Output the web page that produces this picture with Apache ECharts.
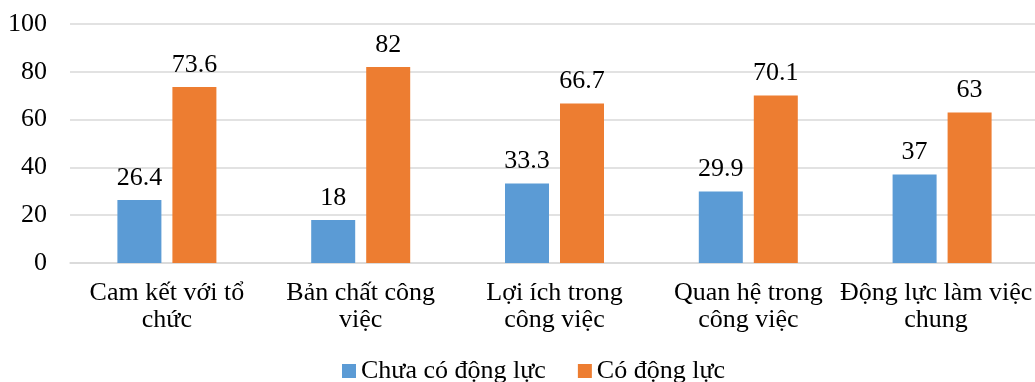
<!DOCTYPE html>
<html>
<head>
<meta charset="utf-8">
<script src="https://cdn.jsdelivr.net/npm/echarts@6/dist/echarts.min.js"></script>
<style>
html,body{margin:0;padding:0;background:#fff;}
#chart{width:1035px;height:382px;}
</style>
</head>
<body>
<div id="chart"></div>
<script>
const categories = ["Cam kết với tổ\nchức", "Bản chất công\nviệc", "Lợi ích trong\ncông việc", "Quan hệ trong\ncông việc", "Động lực làm việc\nchung"];
const seriesNames = ["Chưa có động lực", "Có động lực"];
const chuaCo = [26.4, 18, 33.3, 29.9, 37];
const coDongLuc = [73.6, 82, 66.7, 70.1, 63];
const yTicks = { min: 0, max: 100, interval: 20 };

const FONT = '"Liberation Serif", "Times New Roman", serif';
const chart = echarts.init(document.getElementById('chart'));
const labelCfg = {
  show: true, position: 'top', distance: 9,
  fontFamily: FONT, fontSize: 26, color: '#000'
};
// last category label nudged left so it stays inside the canvas
const catData = categories.map((c, i) =>
  i === categories.length - 1 ? { value: c, textStyle: { padding: [0, 12, 0, 0] } } : c);
chart.setOption({
  animation: false,
  textStyle: { fontFamily: FONT },
  grid: { left: 70, width: 969, top: 24, height: 239, containLabel: false, outerBoundsMode: 'none' },
  legend: {
    left: 342, top: 358, padding: 0,
    itemWidth: 14, itemHeight: 14, itemGap: 32,
    icon: 'rect',
    textStyle: { fontFamily: FONT, fontSize: 26, color: '#000' },
    data: seriesNames
  },
  xAxis: {
    type: 'category',
    data: catData,
    axisLine: { lineStyle: { color: '#d9d9d9', width: 1.5 } },
    axisTick: { show: false },
    axisLabel: { interval: 0, fontFamily: FONT, fontSize: 26, color: '#000', lineHeight: 27, margin: 17 }
  },
  yAxis: {
    type: 'value',
    min: yTicks.min, max: yTicks.max, interval: yTicks.interval,
    axisLine: { show: false },
    axisTick: { show: false },
    splitLine: { lineStyle: { color: '#d9d9d9', width: 1.5 } },
    axisLabel: { fontFamily: FONT, fontSize: 26, color: '#000', margin: 23 }
  },
  series: [
    { name: seriesNames[0], type: 'bar', data: chuaCo, barWidth: 44, barGap: '25%',
      itemStyle: { color: '#5B9BD5' }, label: labelCfg },
    { name: seriesNames[1], type: 'bar', data: coDongLuc, barWidth: 44, barGap: '25%',
      itemStyle: { color: '#ED7D31' }, label: labelCfg }
  ]
});
</script>
</body>
</html>
